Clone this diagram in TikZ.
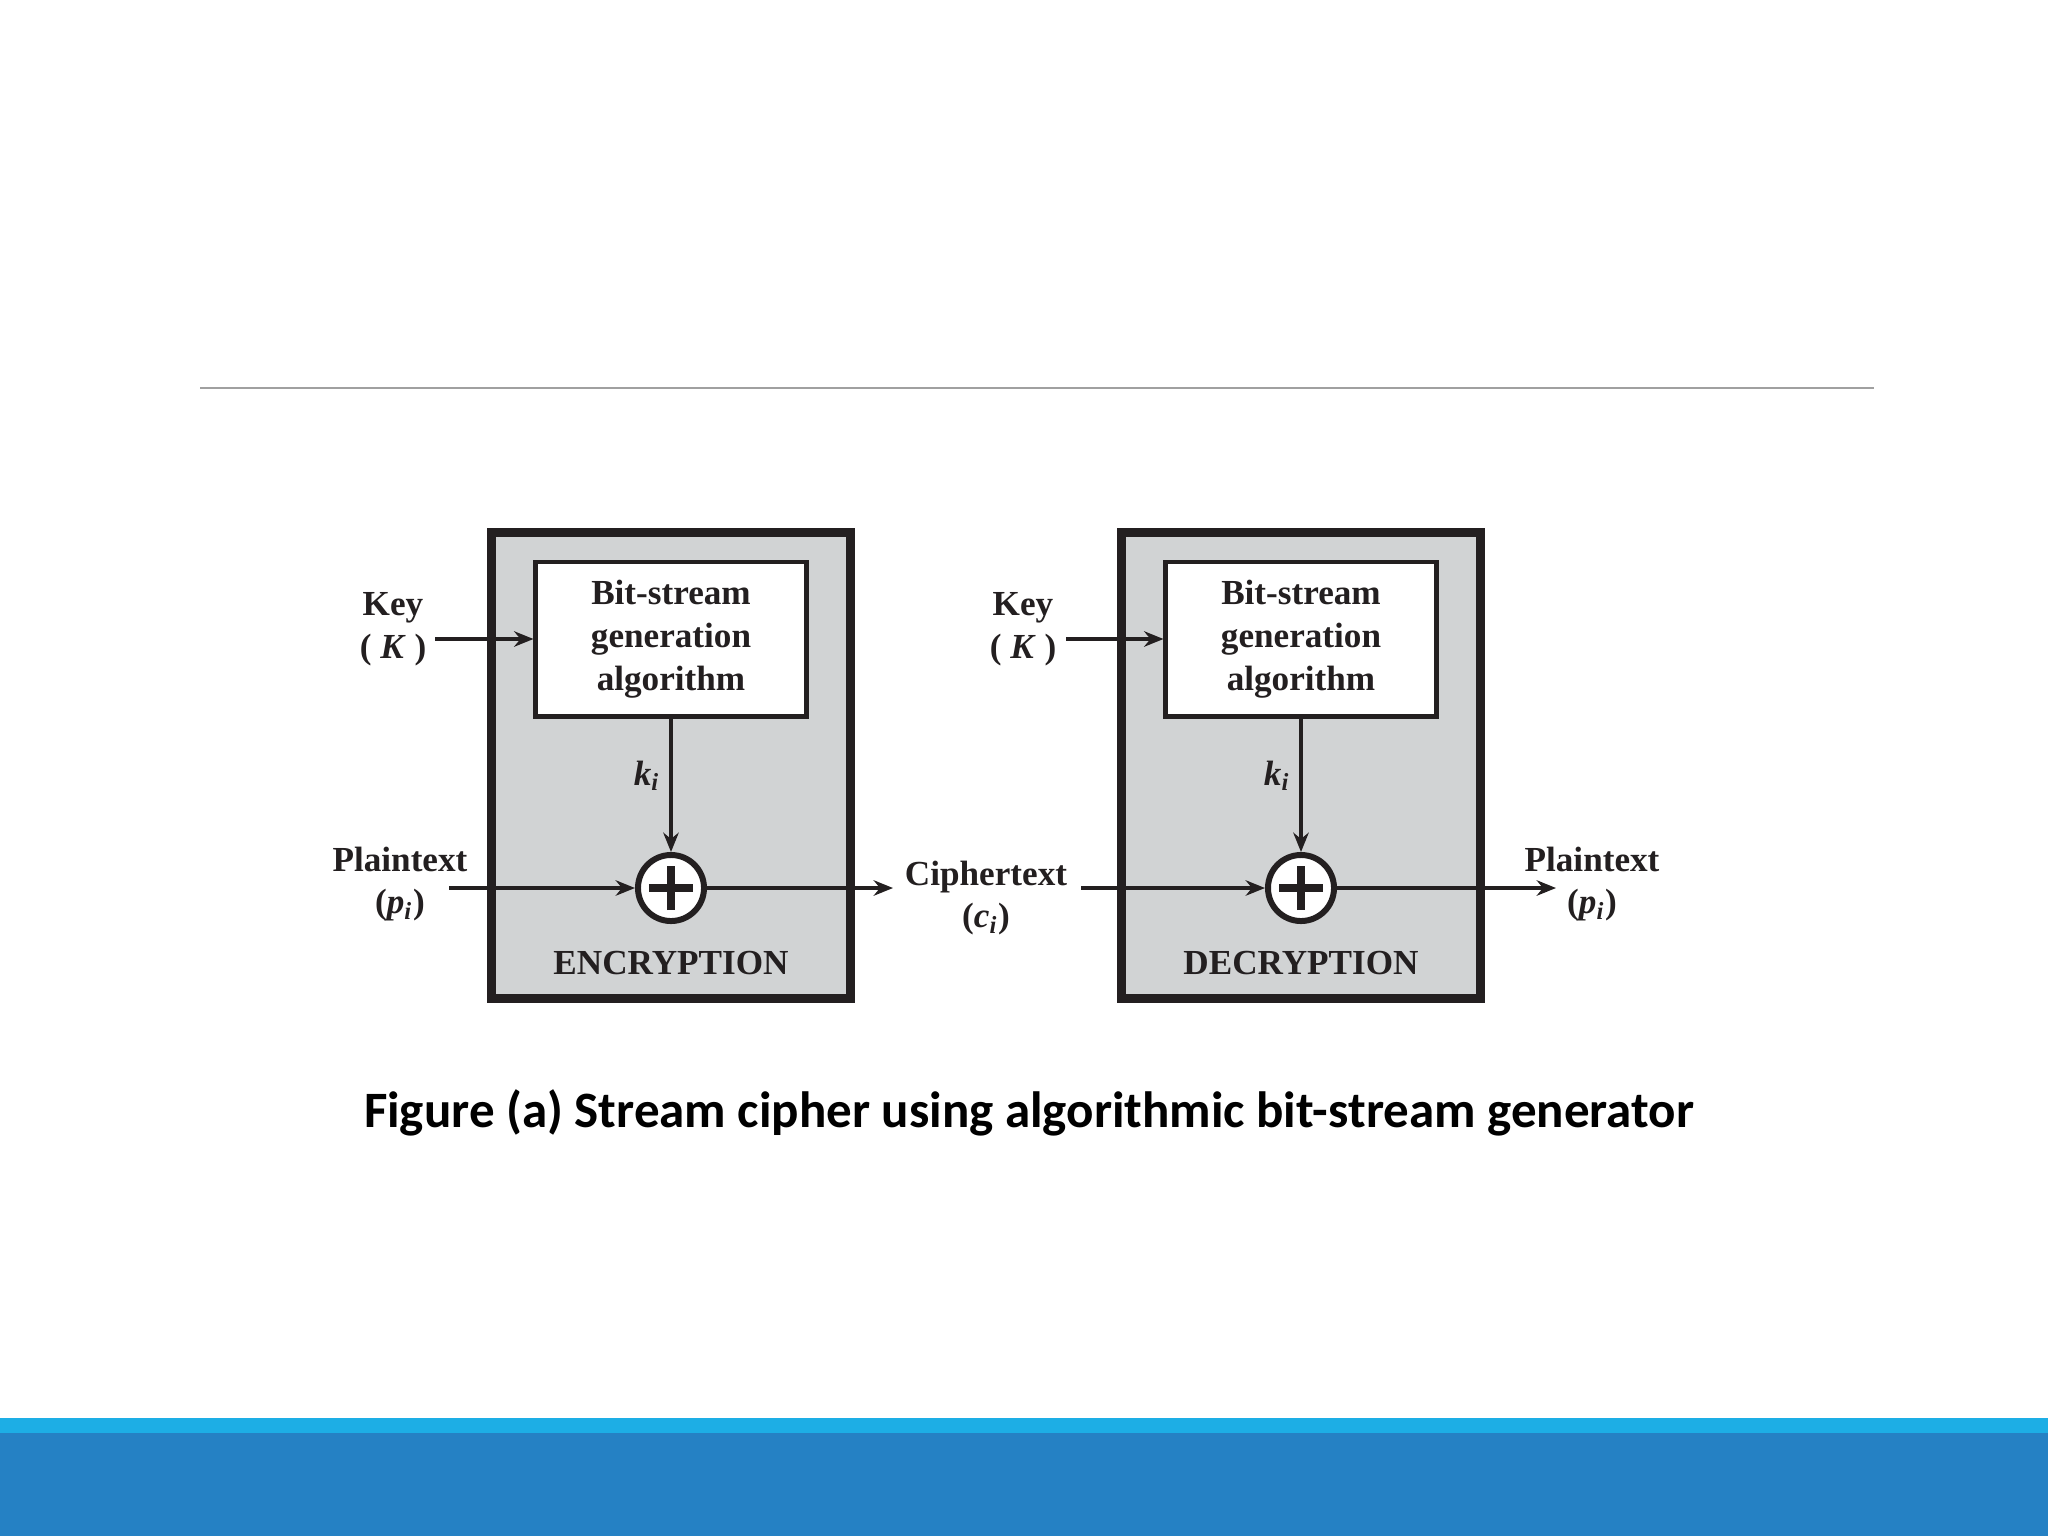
\documentclass[tikz,border=0pt]{standalone}
\usepackage{fontspec}
\setmainfont{Liberation Serif}
\newfontfamily\capfont{Carlito}
\usetikzlibrary{arrows.meta}
\definecolor{ink}{HTML}{231F20}
\definecolor{boxgray}{HTML}{D1D3D4}
\definecolor{rulegray}{HTML}{A0A0A0}
\definecolor{barlight}{HTML}{1DAEE5}
\definecolor{bardark}{HTML}{2581C4}
\tikzset{
  outerbox/.style={draw=ink, fill=boxgray, line width=2.6pt, minimum width=3.58cm, minimum height=4.65cm, inner sep=0pt},
  genbox/.style={draw=ink, fill=white, line width=1.4pt, minimum width=2.70cm, minimum height=1.54cm, align=center, inner sep=0pt, text=ink, font=\fontsize{10}{12.2}\selectfont\bfseries},
  xorc/.style={circle, draw=ink, fill=white, line width=1.7pt, minimum size=0.66cm, inner sep=0pt},
  lbl/.style={align=center, text=ink, inner sep=0pt, font=\fontsize{10}{12.2}\selectfont\bfseries},
  conn/.style={draw=ink, line width=1.35pt},
  arr/.style={conn, -{Stealth[length=5.5pt,width=4.4pt]}},
  plusbar/.style={draw=ink, line width=2.5pt}
}
\newcommand{\sub}[1]{\textsubscript{\itshape #1}}
\begin{document}
\begin{tikzpicture}[x=0.01cm,y=-0.01cm]
\useasboundingbox (0,0) rectangle (2048,1536);
\fill[white] (0,0) rectangle (2048,1536);
% top rule
\draw[rulegray, line width=0.6pt] (200,388) -- (1874,388);
% bottom bar
\fill[barlight] (0,1418) rectangle (2048,1434);
\fill[bardark] (0,1433) rectangle (2048,1536);

% ===== Encryption =====
\node[outerbox] (encbox) at (671,765.5) {};
\node[genbox] (encgen) at (671,639) {Bit-stream\\generation\\algorithm};
\node[xorc] (encx) at (671,888) {};
\draw[plusbar] ([xshift=-0.22cm]encx.center) -- ([xshift=0.22cm]encx.center);
\draw[plusbar] ([yshift=-0.22cm]encx.center) -- ([yshift=0.22cm]encx.center);
\node[lbl] (enclab) at (671,963) {ENCRYPTION};
\node[lbl] (enckey) at (393,629) {Key\\( \textit{K} )};
\node[lbl] (encki) at (647,776) {\itshape k\sub{i}};
\node[lbl] (pin) at (400,884) {Plaintext\\(\textit{p}\sub{i})};
\coordinate (enckeys) at (435,639);
\coordinate (pins) at (449,888);
\draw[arr] (enckeys) -- (encgen.west);
\draw[arr] (encgen.south) -- (encx.north);
\draw[arr] (pins) -- (encx.west);

% ciphertext
\node[lbl] (ct) at (986,898) {Ciphertext\\(\textit{c}\sub{i})};
\coordinate (cte) at (893,888);
\coordinate (cts) at (1081,888);
\draw[arr] (encx.east) -- (cte);

% ===== Decryption =====
\node[outerbox] (decbox) at (1301,765.5) {};
\node[genbox] (decgen) at (1301,639) {Bit-stream\\generation\\algorithm};
\node[xorc] (decx) at (1301,888) {};
\draw[plusbar] ([xshift=-0.22cm]decx.center) -- ([xshift=0.22cm]decx.center);
\draw[plusbar] ([yshift=-0.22cm]decx.center) -- ([yshift=0.22cm]decx.center);
\node[lbl] (declab) at (1301,963) {DECRYPTION};
\node[lbl] (deckey) at (1023,629) {Key\\( \textit{K} )};
\node[lbl] (decki) at (1277,776) {\itshape k\sub{i}};
\node[lbl] (pout) at (1592,884) {Plaintext\\(\textit{p}\sub{i})};
\coordinate (deckeys) at (1066,639);
\coordinate (poute) at (1556,888);
\draw[arr] (deckeys) -- (decgen.west);
\draw[arr] (decgen.south) -- (decx.north);
\draw[arr] (cts) -- (decx.west);
\draw[arr] (decx.east) -- (poute);

% caption
\node[inner sep=0pt, text=black, font=\capfont\fontsize{14.5}{17}\selectfont\bfseries] (cap) at (1029,1113) {Figure (a) Stream cipher using algorithmic bit-stream generator};
\end{tikzpicture}
\end{document}
